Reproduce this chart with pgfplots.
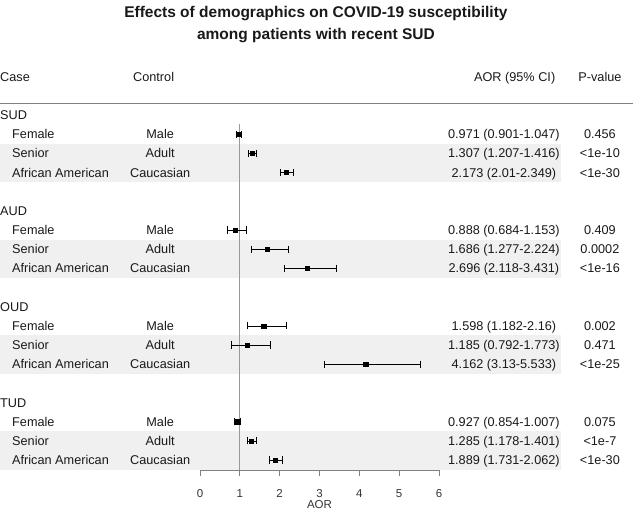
\documentclass[border=0pt]{standalone}
\usepackage{pgfplots}
\pgfplotsset{compat=1.18}
\usepackage{pgfplotstable}
\usepackage{fontspec}
\setmainfont{Liberation Sans}
\definecolor{band}{RGB}{240,240,240}
\definecolor{txt}{RGB}{25,25,25}
\definecolor{axgray}{RGB}{128,128,128}

\pgfplotstableread{
row aor lo hi
-1 0.971 0.901 1.047
-2 1.307 1.207 1.416
-3 2.173 2.01 2.349
-6 0.888 0.684 1.153
-7 1.686 1.277 2.224
-8 2.696 2.118 3.431
-11 1.598 1.182 2.16
-12 1.185 0.792 1.773
-13 4.162 3.13 5.533
-16 0.927 0.854 1.007
-17 1.285 1.178 1.401
-18 1.889 1.731 2.062
}\aordata

\tikzset{cell/.style={inner sep=0pt, text height=9.1pt, text depth=0pt, text=txt, font=\fontsize{12.7}{15}\selectfont}}

\begin{document}
\begin{tikzpicture}
\begin{axis}[
  at={(0,0)}, anchor=south west,
  scale only axis, width=239pt, height=365pt,
  xmin=0, xmax=6, ymin=-18.52, ymax=0.52,
  clip=false,
  axis x line*=bottom, axis y line=none,
  xtick={0,1,2,3,4,5,6}, ytick=\empty,
  xtick pos=bottom,
  tick align=outside, major tick length=6pt,
  tick style={axgray, line width=0.8pt},
  axis line style={axgray, line width=0.8pt, -},
  /pgf/number format/assume math mode=true,
  xticklabel style={font=\fontsize{11.5}{13}\selectfont, text=black!80, anchor=center, text height=8.2pt, text depth=0pt, inner sep=0pt, yshift=-17.5pt},
  xlabel={AOR},
  xlabel style={font=\fontsize{11.5}{13}\selectfont, text=black!80, at={(axis description cs:0.5,0)}, anchor=center, text height=8.2pt, text depth=0pt, inner sep=0pt, yshift=-34.5pt},
]
% bands
\fill[band] (axis cs:-5.02,-1.5) rectangle (axis cs:9.06,-3.5);
\fill[band] (axis cs:-5.02,-6.5) rectangle (axis cs:9.06,-8.5);
\fill[band] (axis cs:-5.02,-11.5) rectangle (axis cs:9.06,-13.5);
\fill[band] (axis cs:-5.02,-16.5) rectangle (axis cs:9.06,-18.5);
% header rule
\draw[axgray, line width=1.6pt] (axis cs:-5.02,0.6) -- (axis cs:10.87,0.6);
% reference line
\addplot[color=black!40, line width=0.9pt] coordinates {(1,-0.47) (1,-18.52)};
% estimates
\addplot[only marks, mark=square*, mark size=2.1pt, color=black,
  error bars/.cd, x dir=both, x explicit,
  error mark=|, error mark options={mark size=3.6pt, line width=0.6pt, black},
  error bar style={line width=0.6pt, black}]
  table[x=aor, y=row,
        x error plus expr=\thisrow{hi}-\thisrow{aor},
        x error minus expr=\thisrow{aor}-\thisrow{lo}] {\aordata};

% title
\node[cell, font=\bfseries\fontsize{15.5}{18}\selectfont, text height=11.1pt, anchor=center] at (axis cs:2.91,5.37) {Effects of demographics on COVID-19 susceptibility};
\node[cell, font=\bfseries\fontsize{15.5}{18}\selectfont, text height=11.1pt, anchor=center] at (axis cs:2.91,4.23) {among patients with recent SUD};
% column headers
\node[cell, anchor=west] at (axis cs:-5.02,1.98) {Case};
\node[cell, anchor=west] at (axis cs:-1.683,1.98) {Control};
\node[cell, anchor=center] at (axis cs:7.9,1.98) {AOR (95\% CI)};
\node[cell, anchor=center] at (axis cs:10.04,1.98) {P-value};

% SUD
\node[cell, anchor=west] at (axis cs:-5.02,0) {SUD};
\node[cell, anchor=west] at (axis cs:-4.72,-1) {Female};
\node[cell, anchor=west] at (axis cs:-4.72,-2) {Senior};
\node[cell, anchor=west] at (axis cs:-4.72,-3) {African American};
\node[cell] at (axis cs:-1.0,-1) {Male};
\node[cell] at (axis cs:-1.0,-2) {Adult};
\node[cell] at (axis cs:-1.0,-3) {Caucasian};
\node[cell] at (axis cs:7.63,-1) {0.971 (0.901-1.047)};
\node[cell] at (axis cs:7.63,-2) {1.307 (1.207-1.416)};
\node[cell] at (axis cs:7.63,-3) {2.173 (2.01-2.349)};
\node[cell] at (axis cs:10.04,-1) {0.456};
\node[cell] at (axis cs:10.04,-2) {<1e-10};
\node[cell] at (axis cs:10.04,-3) {<1e-30};
% AUD
\node[cell, anchor=west] at (axis cs:-5.02,-5) {AUD};
\node[cell, anchor=west] at (axis cs:-4.72,-6) {Female};
\node[cell, anchor=west] at (axis cs:-4.72,-7) {Senior};
\node[cell, anchor=west] at (axis cs:-4.72,-8) {African American};
\node[cell] at (axis cs:-1.0,-6) {Male};
\node[cell] at (axis cs:-1.0,-7) {Adult};
\node[cell] at (axis cs:-1.0,-8) {Caucasian};
\node[cell] at (axis cs:7.63,-6) {0.888 (0.684-1.153)};
\node[cell] at (axis cs:7.63,-7) {1.686 (1.277-2.224)};
\node[cell] at (axis cs:7.63,-8) {2.696 (2.118-3.431)};
\node[cell] at (axis cs:10.04,-6) {0.409};
\node[cell] at (axis cs:10.04,-7) {0.0002};
\node[cell] at (axis cs:10.04,-8) {<1e-16};
% OUD
\node[cell, anchor=west] at (axis cs:-5.02,-10) {OUD};
\node[cell, anchor=west] at (axis cs:-4.72,-11) {Female};
\node[cell, anchor=west] at (axis cs:-4.72,-12) {Senior};
\node[cell, anchor=west] at (axis cs:-4.72,-13) {African American};
\node[cell] at (axis cs:-1.0,-11) {Male};
\node[cell] at (axis cs:-1.0,-12) {Adult};
\node[cell] at (axis cs:-1.0,-13) {Caucasian};
\node[cell] at (axis cs:7.63,-11) {1.598 (1.182-2.16)};
\node[cell] at (axis cs:7.63,-12) {1.185 (0.792-1.773)};
\node[cell] at (axis cs:7.63,-13) {4.162 (3.13-5.533)};
\node[cell] at (axis cs:10.04,-11) {0.002};
\node[cell] at (axis cs:10.04,-12) {0.471};
\node[cell] at (axis cs:10.04,-13) {<1e-25};
% TUD
\node[cell, anchor=west] at (axis cs:-5.02,-15) {TUD};
\node[cell, anchor=west] at (axis cs:-4.72,-16) {Female};
\node[cell, anchor=west] at (axis cs:-4.72,-17) {Senior};
\node[cell, anchor=west] at (axis cs:-4.72,-18) {African American};
\node[cell] at (axis cs:-1.0,-16) {Male};
\node[cell] at (axis cs:-1.0,-17) {Adult};
\node[cell] at (axis cs:-1.0,-18) {Caucasian};
\node[cell] at (axis cs:7.63,-16) {0.927 (0.854-1.007)};
\node[cell] at (axis cs:7.63,-17) {1.285 (1.178-1.401)};
\node[cell] at (axis cs:7.63,-18) {1.889 (1.731-2.062)};
\node[cell] at (axis cs:10.04,-16) {0.075};
\node[cell] at (axis cs:10.04,-17) {<1e-7};
\node[cell] at (axis cs:10.04,-18) {<1e-30};
\end{axis}
\pgfresetboundingbox
\path (-200pt,-40pt) rectangle (433pt,470pt);
\end{tikzpicture}
\end{document}
